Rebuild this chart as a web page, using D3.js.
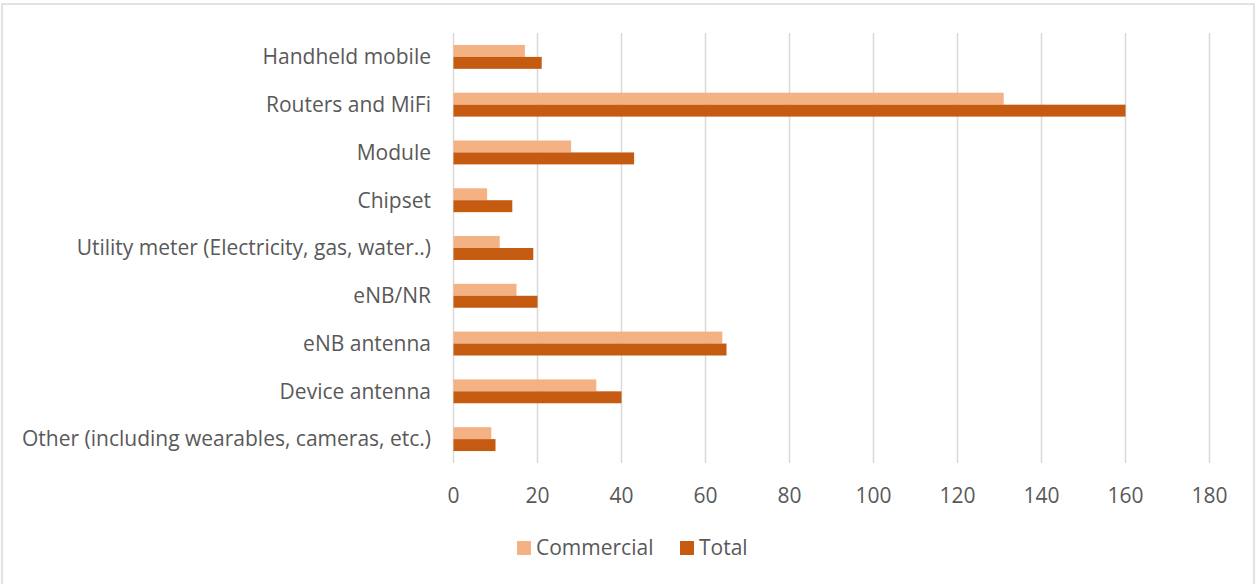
<!DOCTYPE html>
<html><head><meta charset="utf-8">
<script src="https://cdn.jsdelivr.net/npm/d3@7"></script>
<style>body{margin:0;background:#fff}</style>
</head><body>
<svg id="c" width="1257" height="584"></svg>
<script>
const categories = ["Handheld mobile","Routers and MiFi","Module","Chipset","Utility meter (Electricity, gas, water..)","eNB/NR","eNB antenna","Device antenna","Other (including wearables, cameras, etc.)"];
const commercial = [17,131,28,8,11,15,64,34,9];
const total = [21,160,43,14,19,20,65,40,10];
const ticks = [0,20,40,60,80,100,120,140,160,180];
const seriesNames = ["Commercial","Total"];
const colors = ["#F4B183","#C55A11"];

const svg = d3.select("#c");
const font = "'Open Sans', sans-serif";
const fs = 21;
svg.append("rect").attr("x",2).attr("y",4).attr("width",1252).attr("height",590)
  .attr("fill","#fff").attr("stroke","#d9d9d9").attr("stroke-width",1.5);

const x = d3.scaleLinear().domain([0,180]).range([453.5,1209.5]);
const y = d3.scaleBand().domain(categories).range([33,463]);
const inner = d3.scaleBand().domain(seriesNames).range([y.bandwidth()*0.25, y.bandwidth()*0.75]);

const g = svg.append("g");
g.selectAll("line.grid").data(ticks).join("line")
  .attr("x1",d=>x(d)).attr("x2",d=>x(d)).attr("y1",33).attr("y2",463)
  .attr("stroke","#d9d9d9").attr("stroke-width",1.5);

const data = categories.map((c,i)=>({c, v:[commercial[i], total[i]]}));
seriesNames.forEach((s,si)=>{
  g.selectAll("rect.s"+si).data(data).join("rect")
    .attr("x",x(0)).attr("y",d=>y(d.c)+inner(s))
    .attr("width",d=>x(d.v[si])-x(0)).attr("height",inner.bandwidth())
    .attr("fill",colors[si]);
});

g.selectAll("text.cat").data(categories).join("text")
  .attr("x",431).attr("y",d=>y(d)+y.bandwidth()/2).attr("dy","0.35em")
  .attr("text-anchor","end").attr("font-family",font).attr("font-size",fs)
  .attr("fill","#595959").text(d=>d);

g.selectAll("text.tick").data(ticks).join("text")
  .attr("x",d=>x(d)).attr("y",496).attr("dy","0.35em")
  .attr("text-anchor","middle").attr("font-family",font).attr("font-size",fs)
  .attr("fill","#595959").text(d=>d);

const legX = [517, 680];
seriesNames.forEach((s,i)=>{
  svg.append("rect").attr("x",legX[i]).attr("y",541).attr("width",14).attr("height",14).attr("fill",colors[i]);
  svg.append("text").attr("x",legX[i]+19).attr("y",548).attr("dy","0.35em")
    .attr("font-family",font).attr("font-size",fs).attr("fill","#595959").text(s);
});
</script>
</body></html>
